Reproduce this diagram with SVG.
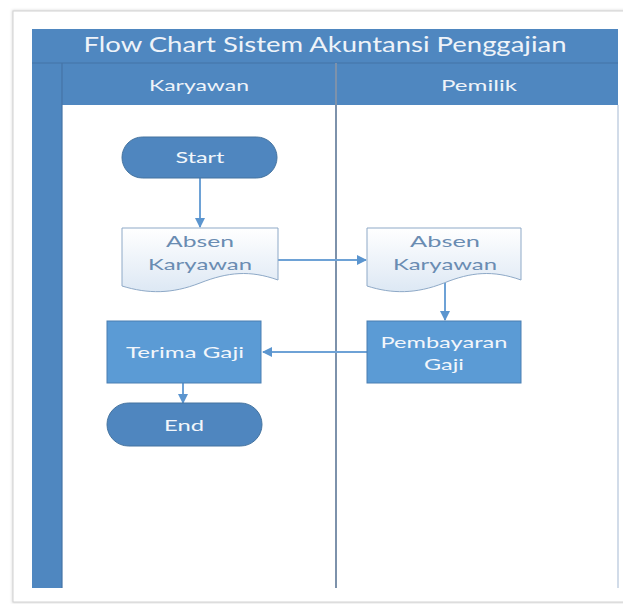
<svg xmlns="http://www.w3.org/2000/svg" width="623" height="604" viewBox="0 0 623 604">
  <defs>
    <linearGradient id="docGrad" x1="0" y1="0" x2="0" y2="1">
      <stop offset="0" stop-color="#ffffff"/>
      <stop offset="1" stop-color="#dde8f4"/>
    </linearGradient>
    <marker id="arr" viewBox="0 0 10 10" refX="9" refY="5" markerWidth="5" markerHeight="5" orient="auto" markerUnits="strokeWidth">
      <path d="M0,0 L10,5 L0,10 Z" fill="#5b95cf"/>
    </marker>
    <filter id="shadow" x="-5%" y="-5%" width="110%" height="110%">
      <feGaussianBlur stdDeviation="1.5"/>
    </filter>
  </defs>
  <style>
    .band { fill: #4f87c0; }
    .txt { font-family: Lato, "Open Sans", "Liberation Sans", sans-serif; }
    .hdr { fill: #eef3f9; font-size: 15px; text-anchor: middle; }
    .title { fill: #eef3f9; font-size: 21px; text-anchor: middle; }
    .term { fill: #4f86bf; stroke: #44739f; stroke-width: 1; }
    .proc { fill: #5b9bd5; stroke: #4a7fb2; stroke-width: 1; }
    .doc { fill: url(#docGrad); stroke: #8ea9c7; stroke-width: 1; }
    .wt { fill: #f2f6fb; font-size: 16px; text-anchor: middle; }
    .dt { fill: #6a8cb2; font-size: 16px; text-anchor: middle; }
    .conn { fill: none; stroke: #6ea2d6; stroke-width: 2; marker-end: url(#arr); }
  </style>

  <rect x="0" y="0" width="623" height="604" fill="#ffffff"/>
  <!-- card -->
  <rect x="12" y="10" width="616" height="593" fill="#dcdcdc" filter="url(#shadow)"/>
  <rect x="13" y="11" width="614" height="591" fill="#ffffff" stroke="#d2d2d2" stroke-width="1"/>

  <!-- swimlane frame -->
  <g id="pool">
    <rect class="band" x="32" y="29" width="586" height="34"/>
    <rect class="band" x="32" y="63" width="586" height="42"/>
    <rect class="band" x="32" y="105" width="30" height="483"/>
    <line x1="32" y1="63" x2="618" y2="63" stroke="#4574a6" stroke-width="1.2"/>
    <line x1="62" y1="63" x2="62" y2="588" stroke="#4574a6" stroke-width="1.2"/>
    <line x1="336" y1="63" x2="336" y2="588" stroke="#7d92ab" stroke-width="2"/>
    <line x1="618" y1="105" x2="618" y2="588" stroke="#c3d1e2" stroke-width="1.5"/>
    <text class="txt title" x="325" y="52" textLength="483" lengthAdjust="spacingAndGlyphs">Flow Chart Sistem Akuntansi Penggajian</text>
    <text class="txt hdr" x="199" y="91" textLength="100" lengthAdjust="spacingAndGlyphs">Karyawan</text>
    <text class="txt hdr" x="479" y="91" textLength="76" lengthAdjust="spacingAndGlyphs">Pemilik</text>
  </g>

  <g id="connectors">
    <line class="conn" x1="200" y1="178" x2="200" y2="227"/>
    <line class="conn" x1="278" y1="260" x2="366" y2="260"/>
    <line class="conn" x1="445" y1="283" x2="445" y2="320"/>
    <line class="conn" x1="367" y1="352" x2="263" y2="352"/>
    <line class="conn" x1="183" y1="383" x2="183" y2="403"/>
  </g>

  <g id="start">
    <rect class="term" x="122" y="137" width="155" height="41" rx="20.5"/>
    <text class="txt wt" x="200" y="163" textLength="49" lengthAdjust="spacingAndGlyphs">Start</text>
  </g>

  <g id="absen1">
    <path class="doc" d="M122,228 H278 V280 C250,270 228,272 200,283 C172,294 148,294 122,286 Z"/>
    <text class="txt dt" x="200" y="247" textLength="68" lengthAdjust="spacingAndGlyphs">Absen</text>
    <text class="txt dt" x="200" y="270" textLength="104" lengthAdjust="spacingAndGlyphs">Karyawan</text>
  </g>

  <g id="absen2">
    <path class="doc" d="M367,228 H521 V280 C493,270 471,272 444,283 C416,294 392,294 367,286 Z"/>
    <text class="txt dt" x="445" y="247" textLength="70" lengthAdjust="spacingAndGlyphs">Absen</text>
    <text class="txt dt" x="445" y="270" textLength="104" lengthAdjust="spacingAndGlyphs">Karyawan</text>
  </g>

  <g id="pembayaran">
    <rect class="proc" x="367" y="321" width="154" height="62"/>
    <text class="txt wt" x="444" y="348" textLength="127" lengthAdjust="spacingAndGlyphs">Pembayaran</text>
    <text class="txt wt" x="444" y="370" textLength="40" lengthAdjust="spacingAndGlyphs">Gaji</text>
  </g>

  <g id="terima">
    <rect class="proc" x="107" y="321" width="154" height="62"/>
    <text class="txt wt" x="185" y="358" textLength="118" lengthAdjust="spacingAndGlyphs">Terima Gaji</text>
  </g>

  <g id="end">
    <rect class="term" x="107" y="403" width="155" height="43" rx="21.5"/>
    <text class="txt wt" x="184" y="431" textLength="40" lengthAdjust="spacingAndGlyphs">End</text>
  </g>
</svg>
